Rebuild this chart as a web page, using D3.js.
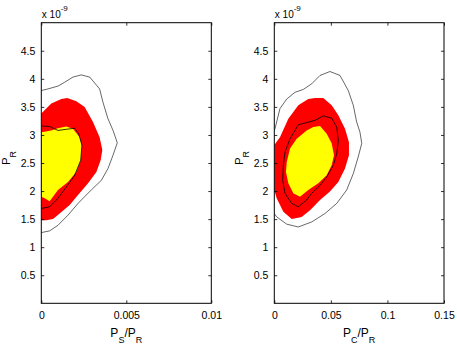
<!DOCTYPE html>
<html>
<head>
<meta charset="utf-8">
<script src="https://cdn.jsdelivr.net/npm/d3@7"></script>
<style>
  body { margin: 0; background: #fff; }
  svg { display: block; font-family: "Liberation Sans", Arial, Helvetica, sans-serif; }
</style>
</head>
<body>
<svg id="chart" width="457" height="346"></svg>
<script>
// y values are in units of 1e-9 (axis shows "x 10^-9")
var yTicks = [0.5, 1, 1.5, 2, 2.5, 3, 3.5, 4, 4.5];
var leftXTicks = [0, 0.005, 0.01];
var rightXTicks = [0, 0.05, 0.1, 0.15];

// left panel: P_S/P_R vs P_R
var leftOuter = [[0,3.79],[0.00039,3.82],[0.00098,3.87],[0.00138,3.94],[0.00186,4.03],[0.00235,4.07],
  [0.00285,4.03],[0.00343,3.82],[0.00363,3.58],[0.00392,3.29],[0.00422,3.08],[0.00447,2.86],[0.00422,2.64],
  [0.00392,2.40],[0.00353,2.19],[0.00294,2.02],[0.00216,1.78],[0.00157,1.57],[0.00098,1.39],[0.00049,1.29],[0,1.26]];
var leftRed = [[0,3.38],[0.00059,3.56],[0.00118,3.64],[0.00153,3.66],[0.00206,3.60],[0.00255,3.50],
  [0.00304,3.23],[0.00343,2.96],[0.00359,2.73],[0.00349,2.55],[0.00324,2.34],[0.00275,2.14],[0.00216,1.93],
  [0.00167,1.75],[0.00108,1.60],[0.00069,1.50],[0.00029,1.48],[0,1.48]];
var leftYellow = [[0,3.05],[0.00059,3.08],[0.00098,3.12],[0.00147,3.15],[0.00186,3.11],[0.00226,2.96],
  [0.00239,2.79],[0.00232,2.55],[0.00206,2.34],[0.00157,2.16],[0.00098,2.02],[0.00049,1.82],[0.0002,1.87],[0,1.90]];
var leftInner = [[0,3.16],[0.00049,3.15],[0.00098,3.08],[0.00147,3.10],[0.00196,3.12],[0.0022,3.02],
  [0.00239,2.82],[0.00232,2.55],[0.00196,2.28],[0.00147,2.07],[0.00098,1.87],[0.00049,1.72],[0,1.69]];

// right panel: P_C/P_R vs P_R
var rightOuter = [[0,3.08],[0.0006,3.11],[0.005,3.47],[0.011,3.64],[0.0183,3.76],[0.0256,3.81],[0.033,3.91],
  [0.0404,4.06],[0.0492,4.13],[0.0581,4.06],[0.0654,3.79],[0.0698,3.53],[0.0728,3.23],[0.0757,3.05],[0.0773,2.85],
  [0.0742,2.61],[0.0698,2.31],[0.064,2.02],[0.0552,1.78],[0.0448,1.60],[0.0331,1.45],[0.0212,1.36],[0.011,1.41],
  [0.0021,1.54],[0,1.60]];
var rightRed = [[0,2.82],[0.005,2.96],[0.0124,3.29],[0.0212,3.53],[0.03,3.64],[0.036,3.66],[0.0433,3.66],
  [0.0507,3.53],[0.0566,3.35],[0.0625,3.11],[0.066,2.87],[0.066,2.64],[0.0625,2.40],[0.0566,2.16],[0.0492,1.99],
  [0.0404,1.84],[0.0316,1.66],[0.0242,1.54],[0.0154,1.50],[0.008,1.63],[0.0021,1.87],[0,2.02]];
var rightYellow = [[0.011,2.52],[0.0139,2.76],[0.0198,2.93],[0.0286,3.08],[0.0345,3.14],[0.0404,3.16],
  [0.0463,3.02],[0.0507,2.85],[0.0528,2.64],[0.0507,2.46],[0.0463,2.28],[0.0389,2.14],[0.03,2.02],[0.0227,1.90],
  [0.0168,1.96],[0.0124,2.14],[0.0103,2.34]];
var rightInner = [[0.008,2.46],[0.0095,2.70],[0.0139,2.93],[0.0212,3.18],[0.0286,3.22],[0.036,3.26],
  [0.0433,3.34],[0.0507,3.30],[0.0552,3.14],[0.0566,2.90],[0.0552,2.67],[0.0522,2.46],[0.0463,2.25],[0.0404,2.10],
  [0.033,1.96],[0.0286,1.84],[0.0212,1.72],[0.0154,1.78],[0.0095,1.96],[0.0074,2.19]];

var panels = [
  { id: 'l', left: 41.3, right: 211.3, xmax: 0.01, xTicks: leftXTicks, sub: 'S',
    red: leftRed, yellow: leftYellow, outer: leftOuter, inner: leftInner, closedLines: false },
  { id: 'r', left: 274.3, right: 444, xmax: 0.15, xTicks: rightXTicks, sub: 'C',
    red: rightRed, yellow: rightYellow, outer: rightOuter, inner: rightInner, closedLines: true }
];

var plotTop = 22.7, plotBottom = 303.3, tickLen = 3;
var svg = d3.select('#chart');

panels.forEach(function (p) {
  var x = d3.scaleLinear().domain([0, p.xmax]).range([p.left, p.right]);
  var y = d3.scaleLinear().domain([0, 5]).range([plotBottom, plotTop]);

  var g = svg.append('g');

  // clip to the axes box
  svg.append('clipPath').attr('id', 'clip-' + p.id)
    .append('rect')
    .attr('x', p.left).attr('y', plotTop)
    .attr('width', p.right - p.left).attr('height', plotBottom - plotTop);

  var plot = g.append('g').attr('clip-path', 'url(#clip-' + p.id + ')');
  var line = d3.line().x(function (d) { return x(d[0]); }).y(function (d) { return y(d[1]); });

  plot.append('path').attr('d', line(p.red) + 'Z').attr('fill', '#ff0000');
  plot.append('path').attr('d', line(p.yellow) + 'Z').attr('fill', '#ffff00');
  plot.append('path').attr('d', line(p.outer))
    .attr('fill', 'none').attr('stroke', '#000').attr('stroke-width', 0.6);
  plot.append('path').attr('d', line(p.inner) + (p.closedLines ? 'Z' : ''))
    .attr('fill', 'none').attr('stroke', '#000').attr('stroke-width', 0.8);

  // axes (MATLAB style: inward ticks on all four sides)
  var axL = d3.axisLeft(y).tickValues(yTicks).tickSizeInner(-tickLen).tickSizeOuter(0).tickPadding(6)
    .tickFormat(d3.format('~g'));
  var axR = d3.axisRight(y).tickValues(yTicks).tickSizeInner(-tickLen).tickSizeOuter(0).tickFormat('');
  var axB = d3.axisBottom(x).tickValues(p.xTicks).tickSizeInner(-tickLen).tickSizeOuter(0).tickPadding(8)
    .tickFormat(d3.format('~g'));
  var axT = d3.axisTop(x).tickValues(p.xTicks).tickSizeInner(-tickLen).tickSizeOuter(0).tickFormat('');

  [[axL, 'translate(' + p.left + ',0)'], [axR, 'translate(' + p.right + ',0)'],
   [axB, 'translate(0,' + plotBottom + ')'], [axT, 'translate(0,' + plotTop + ')']].forEach(function (a) {
    var ga = g.append('g').attr('transform', a[1]).call(a[0]);
    ga.select('.domain').remove();
    ga.selectAll('line').attr('stroke', '#000').attr('stroke-width', 0.8);
    ga.selectAll('text').attr('font-size', '10.5px').attr('fill', '#000')
      .attr('font-family', '"Liberation Sans", Arial, sans-serif');
  });

  g.append('rect')
    .attr('x', p.left).attr('y', plotTop)
    .attr('width', p.right - p.left).attr('height', plotBottom - plotTop)
    .attr('fill', 'none').attr('stroke', '#000').attr('stroke-width', 1);

  // exponent label
  var ex = g.append('text').attr('x', p.left + 0.5).attr('y', 17.5).attr('font-size', '10px');
  ex.append('tspan').text('x 10');
  ex.append('tspan').attr('dy', -7).attr('font-size', '8px').text('-9');

  // x label
  var xl = g.append('text').attr('x', (p.left + p.right) / 2).attr('y', 336.5)
    .attr('text-anchor', 'middle').attr('font-size', '12px');
  xl.append('tspan').text('P');
  xl.append('tspan').attr('dy', 6).attr('font-size', '9px').text(p.sub);
  xl.append('tspan').attr('dy', -6).text('/P');
  xl.append('tspan').attr('dy', 6).attr('font-size', '9px').text('R');

  // y label
  var yl = g.append('text').attr('transform', 'translate(' + (p.left - 31.5) + ',158) rotate(-90)')
    .attr('text-anchor', 'middle').attr('font-size', '11.5px');
  yl.append('tspan').text('P');
  yl.append('tspan').attr('dy', 6).attr('font-size', '9px').text('R');
});
</script>
</body>
</html>
